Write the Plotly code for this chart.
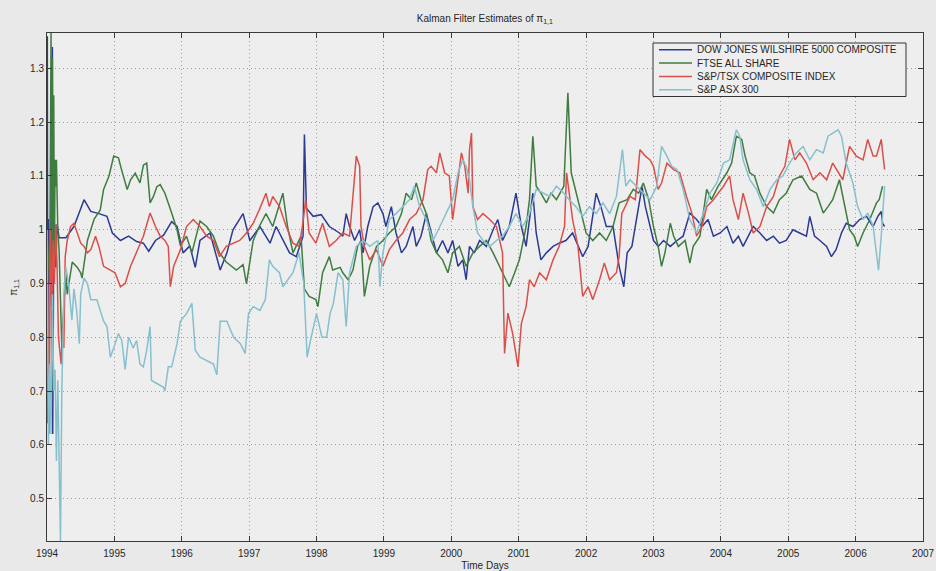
import plotly.graph_objects as go

# Kalman filter estimates of pi_{1,1} for four equity indices (time in decimal years)
dow_t = [1994.000, 1994.005, 1994.012, 1994.020, 1994.040, 1994.060, 1994.080, 1994.085, 1994.100,
         1994.130, 1994.150, 1994.180, 1994.280, 1994.400, 1994.550, 1994.650, 1994.770, 1994.890,
         1994.970, 1995.090, 1995.210, 1995.330, 1995.430, 1995.510, 1995.610, 1995.730, 1995.850,
         1995.930, 1996.020, 1996.120, 1996.200, 1996.270, 1996.420, 1996.570, 1996.670, 1996.760,
         1996.910, 1997.010, 1997.160, 1997.310, 1997.400, 1997.500, 1997.600, 1997.700, 1997.800,
         1997.820, 1997.850, 1997.950, 1998.070, 1998.190, 1998.340, 1998.390, 1998.440, 1998.490,
         1998.565, 1998.640, 1998.690, 1998.760, 1998.840, 1998.910, 1998.985, 1999.030, 1999.110,
         1999.180, 1999.260, 1999.330, 1999.430, 1999.480, 1999.550, 1999.630, 1999.680, 1999.780,
         1999.870, 1999.950, 2000.020, 2000.100, 2000.170, 2000.220, 2000.270, 2000.340, 2000.420,
         2000.520, 2000.620, 2000.690, 2000.760, 2000.860, 2000.960, 2001.040, 2001.110, 2001.160,
         2001.210, 2001.260, 2001.330, 2001.410, 2001.510, 2001.600, 2001.700, 2001.800, 2001.880,
         2001.950, 2002.030, 2002.100, 2002.150, 2002.220, 2002.300, 2002.400, 2002.490, 2002.560,
         2002.610, 2002.680, 2002.730, 2002.780, 2002.830, 2002.880, 2002.950, 2003.000, 2003.070,
         2003.150, 2003.250, 2003.350, 2003.440, 2003.540, 2003.640, 2003.720, 2003.810, 2003.890,
         2003.990, 2004.090, 2004.180, 2004.260, 2004.330, 2004.410, 2004.480, 2004.580, 2004.680,
         2004.780, 2004.870, 2004.970, 2005.070, 2005.170, 2005.270, 2005.320, 2005.390, 2005.470,
         2005.570, 2005.640, 2005.710, 2005.790, 2005.860, 2005.960, 2006.060, 2006.160, 2006.260,
         2006.330, 2006.380, 2006.400, 2006.430]
dow_v = [0.980, 1.360, 0.640, 1.020, 0.900, 1.050, 1.340, 0.620, 0.980,
         0.930, 1.010, 0.985, 0.985, 1.006, 1.056, 1.034, 1.030, 1.025,
         0.994, 0.980, 0.988, 0.978, 0.975, 0.960, 0.980, 0.990, 1.015,
         1.006, 0.957, 0.970, 0.930, 0.980, 0.994, 0.925, 0.957, 1.000,
         1.030, 0.980, 1.006, 0.975, 1.006, 0.980, 0.957, 0.950, 0.988,
         1.177, 1.040, 1.025, 1.028, 1.006, 0.994, 0.988, 1.030, 1.006,
         0.980, 1.000, 0.957, 1.006, 1.043, 1.050, 1.030, 1.006, 1.043,
         0.994, 0.957, 0.969, 1.006, 0.969, 0.988, 1.030, 1.006, 0.957,
         0.980, 0.957, 0.980, 0.932, 0.944, 0.907, 0.969, 0.957, 0.980,
         0.969, 1.000, 1.019, 0.980, 1.006, 1.068, 1.006, 0.969, 1.019,
         1.068, 0.994, 0.944, 0.957, 0.969, 0.975, 0.980, 0.994, 0.969,
         0.950, 0.969, 1.025, 1.068, 1.043, 1.006, 1.006, 0.932, 0.894,
         0.957, 0.969, 1.006, 1.037, 1.080, 1.043, 1.006, 0.980, 0.969,
         0.980, 0.969, 0.980, 0.988, 1.031, 1.019, 1.006, 1.019, 0.988,
         0.994, 1.006, 0.975, 0.988, 0.969, 0.988, 1.006, 0.994, 0.980,
         0.988, 0.975, 0.980, 1.000, 0.994, 0.988, 1.025, 0.988, 0.980,
         0.969, 0.950, 0.963, 0.994, 1.012, 1.006, 1.019, 1.025, 1.006,
         1.025, 1.034, 1.012, 1.006]

ftse_t = [1994.000, 1994.040, 1994.060, 1994.070, 1994.080, 1994.090, 1994.100, 1994.110, 1994.120,
          1994.130, 1994.140, 1994.160, 1994.180, 1994.200, 1994.220, 1994.250, 1994.280, 1994.300,
          1994.375, 1994.450, 1994.500, 1994.520, 1994.600, 1994.700, 1994.790, 1994.840, 1994.920,
          1994.990, 1995.060, 1995.110, 1995.190, 1995.240, 1995.310, 1995.380, 1995.430, 1995.480,
          1995.510, 1995.530, 1995.580, 1995.630, 1995.680, 1995.750, 1995.850, 1995.930, 1995.980,
          1996.070, 1996.150, 1996.200, 1996.270, 1996.370, 1996.470, 1996.560, 1996.660, 1996.810,
          1996.910, 1996.960, 1997.060, 1997.150, 1997.250, 1997.350, 1997.500, 1997.570, 1997.650,
          1997.770, 1997.820, 1997.890, 1997.990, 1998.020, 1998.090, 1998.190, 1998.240, 1998.350,
          1998.390, 1998.470, 1998.540, 1998.610, 1998.660, 1998.710, 1998.790, 1998.890, 1998.985,
          1999.080, 1999.180, 1999.260, 1999.330, 1999.410, 1999.480, 1999.550, 1999.630, 1999.700,
          1999.780, 1999.870, 1999.950, 2000.020, 2000.120, 2000.220, 2000.320, 2000.420, 2000.520,
          2000.620, 2000.720, 2000.790, 2000.860, 2000.940, 2001.010, 2001.110, 2001.160, 2001.210,
          2001.260, 2001.330, 2001.410, 2001.480, 2001.560, 2001.670, 2001.730, 2001.780, 2001.850,
          2001.930, 2002.000, 2002.100, 2002.200, 2002.300, 2002.400, 2002.490, 2002.610, 2002.700,
          2002.780, 2002.850, 2002.930, 2003.000, 2003.070, 2003.120, 2003.170, 2003.250, 2003.300,
          2003.370, 2003.470, 2003.540, 2003.590, 2003.690, 2003.790, 2003.860, 2003.960, 2004.090,
          2004.160, 2004.230, 2004.310, 2004.360, 2004.430, 2004.500, 2004.580, 2004.680, 2004.780,
          2004.870, 2004.970, 2005.070, 2005.200, 2005.320, 2005.420, 2005.520, 2005.590, 2005.660,
          2005.760, 2005.840, 2005.910, 2005.980, 2006.030, 2006.110, 2006.210, 2006.310, 2006.350,
          2006.400]
ftse_v = [1.000, 0.900, 1.366, 0.700, 1.320, 0.850, 1.250, 0.950, 1.130,
          1.080, 1.130, 1.000, 0.960, 0.850, 0.780, 0.860, 0.920, 0.880,
          0.940, 0.930, 0.920, 0.910, 0.980, 1.020, 1.037, 1.075, 1.100,
          1.137, 1.134, 1.110, 1.075, 1.093, 1.105, 1.087, 1.120, 1.124,
          1.087, 1.050, 1.062, 1.080, 1.084, 1.068, 1.031, 1.000, 0.970,
          0.988, 0.957, 0.980, 1.016, 1.006, 0.988, 0.957, 0.940, 0.925,
          0.935, 0.900, 0.980, 1.006, 1.030, 1.006, 1.068, 1.006, 0.957,
          0.988, 0.890, 0.876, 0.870, 0.857, 0.920, 0.950, 0.925, 0.930,
          0.920, 0.907, 0.925, 0.969, 0.980, 0.876, 0.932, 0.969, 0.980,
          0.994, 1.006, 1.030, 1.068, 1.056, 1.087, 1.056, 1.030, 0.980,
          0.957, 0.944, 0.920, 0.957, 0.969, 0.932, 0.957, 0.969, 0.980,
          0.957, 0.932, 0.913, 0.894, 0.920, 0.944, 1.006, 1.056, 1.174,
          1.081, 1.068, 1.050, 1.068, 1.056, 1.081, 1.255, 1.106, 1.068,
          1.030, 0.994, 0.980, 0.994, 0.980, 1.006, 1.050, 1.056, 1.075,
          1.068, 1.087, 1.056, 1.006, 0.969, 0.932, 0.957, 1.012, 0.988,
          0.969, 0.980, 0.938, 0.969, 0.988, 1.075, 1.056, 1.081, 1.106,
          1.124, 1.174, 1.168, 1.137, 1.106, 1.100, 1.068, 1.043, 1.031,
          1.056, 1.068, 1.093, 1.100, 1.075, 1.068, 1.031, 1.043, 1.056,
          1.093, 1.043, 1.000, 0.988, 0.969, 0.994, 1.019, 1.050, 1.056,
          1.081]

tsx_t = [1994.000, 1994.030, 1994.050, 1994.070, 1994.090, 1994.110, 1994.130, 1994.150, 1994.170,
         1994.190, 1994.210, 1994.230, 1994.250, 1994.270, 1994.300, 1994.350, 1994.400, 1994.450,
         1994.500, 1994.550, 1994.600, 1994.650, 1994.720, 1994.770, 1994.840, 1994.940, 1995.010,
         1995.090, 1995.160, 1995.240, 1995.330, 1995.430, 1995.530, 1995.610, 1995.680, 1995.750,
         1995.800, 1995.830, 1995.880, 1995.980, 1996.070, 1996.170, 1996.270, 1996.370, 1996.470,
         1996.560, 1996.660, 1996.760, 1996.860, 1996.960, 1997.060, 1997.150, 1997.250, 1997.300,
         1997.350, 1997.450, 1997.550, 1997.650, 1997.740, 1997.790, 1997.840, 1997.890, 1997.990,
         1998.090, 1998.190, 1998.290, 1998.390, 1998.490, 1998.565, 1998.590, 1998.640, 1998.660,
         1998.710, 1998.790, 1998.890, 1998.985, 1999.080, 1999.180, 1999.280, 1999.380, 1999.480,
         1999.580, 1999.650, 1999.700, 1999.780, 1999.830, 1999.900, 1999.970, 2000.020, 2000.070,
         2000.150, 2000.200, 2000.250, 2000.270, 2000.300, 2000.320, 2000.390, 2000.470, 2000.570,
         2000.670, 2000.760, 2000.790, 2000.840, 2000.910, 2000.990, 2001.040, 2001.110, 2001.160,
         2001.230, 2001.310, 2001.410, 2001.510, 2001.600, 2001.680, 2001.710, 2001.750, 2001.800,
         2001.880, 2001.950, 2002.030, 2002.100, 2002.200, 2002.270, 2002.350, 2002.450, 2002.490,
         2002.530, 2002.580, 2002.650, 2002.730, 2002.800, 2002.880, 2002.950, 2003.000, 2003.070,
         2003.120, 2003.200, 2003.300, 2003.390, 2003.490, 2003.570, 2003.640, 2003.720, 2003.790,
         2003.890, 2003.960, 2004.040, 2004.130, 2004.180, 2004.260, 2004.330, 2004.410, 2004.480,
         2004.580, 2004.680, 2004.780, 2004.870, 2004.950, 2005.020, 2005.100, 2005.170, 2005.270,
         2005.370, 2005.470, 2005.570, 2005.660, 2005.740, 2005.810, 2005.910, 2006.010, 2006.110,
         2006.180, 2006.260, 2006.310, 2006.380, 2006.430]
tsx_v = [1.000, 0.620, 1.000, 0.850, 0.980, 0.900, 1.010, 0.930, 0.800,
         0.770, 0.750, 0.820, 0.780, 0.950, 0.980, 1.006, 1.012, 0.994,
         0.975, 0.969, 0.957, 0.963, 0.988, 0.969, 0.932, 0.925, 0.920,
         0.894, 0.900, 0.932, 0.957, 0.988, 1.031, 1.006, 0.988, 0.980,
         0.969, 0.894, 0.932, 0.963, 1.006, 1.019, 1.006, 0.988, 0.980,
         0.950, 0.969, 0.975, 0.980, 0.994, 1.012, 1.037, 1.068, 1.043,
         1.062, 1.043, 1.006, 0.975, 0.969, 1.006, 1.056, 0.994, 0.975,
         1.012, 0.969, 0.980, 0.994, 0.988, 1.106, 1.137, 1.118, 1.006,
         0.969, 0.944, 0.963, 0.932, 0.963, 0.980, 0.994, 1.019, 1.030,
         1.056, 1.112, 1.118, 1.106, 1.143, 1.106, 1.100, 1.019, 1.068,
         1.143, 1.118, 1.068, 1.149, 1.180, 1.043, 1.019, 1.030, 1.019,
         1.006, 0.957, 0.770, 0.845, 0.807, 0.745, 0.826, 0.857, 0.907,
         0.894, 0.920, 0.907, 0.944, 0.969, 1.006, 1.106, 1.068, 1.019,
         0.969, 0.876, 0.894, 0.870, 0.907, 0.938, 0.907, 0.920, 0.950,
         1.030, 1.043, 1.062, 1.056, 1.149, 1.137, 1.130, 1.118, 1.075,
         1.087, 1.124, 1.112, 1.106, 1.062, 1.031, 0.988, 1.006, 1.043,
         1.056, 1.068, 1.081, 1.100, 1.056, 1.019, 1.068, 1.031, 0.994,
         1.006, 1.043, 1.062, 1.100, 1.118, 1.168, 1.130, 1.143, 1.124,
         1.093, 1.106, 1.093, 1.124, 1.106, 1.093, 1.155, 1.137, 1.130,
         1.168, 1.137, 1.137, 1.168, 1.112]

asx_t = [1994.000, 1994.020, 1994.040, 1994.060, 1994.080, 1994.100, 1994.120, 1994.140, 1994.160,
         1994.180, 1994.200, 1994.220, 1994.250, 1994.280, 1994.320, 1994.370, 1994.400, 1994.440,
         1994.480, 1994.500, 1994.550, 1994.600, 1994.650, 1994.740, 1994.790, 1994.840, 1994.890,
         1994.940, 1994.990, 1995.060, 1995.110, 1995.160, 1995.210, 1995.280, 1995.330, 1995.380,
         1995.430, 1995.480, 1995.530, 1995.550, 1995.630, 1995.730, 1995.750, 1995.800, 1995.850,
         1995.930, 1995.980, 1996.070, 1996.150, 1996.200, 1996.270, 1996.370, 1996.470, 1996.520,
         1996.570, 1996.670, 1996.770, 1996.870, 1996.940, 1996.990, 1997.060, 1997.160, 1997.240,
         1997.300, 1997.350, 1997.450, 1997.500, 1997.650, 1997.740, 1997.810, 1997.860, 1997.910,
         1997.960, 1998.000, 1998.080, 1998.150, 1998.200, 1998.250, 1998.320, 1998.390, 1998.440,
         1998.490, 1998.590, 1998.690, 1998.790, 1998.910, 1998.940, 1998.985, 1999.080, 1999.180,
         1999.280, 1999.380, 1999.450, 1999.530, 1999.630, 1999.730, 1999.830, 1999.920, 2000.020,
         2000.100, 2000.170, 2000.220, 2000.270, 2000.320, 2000.390, 2000.470, 2000.570, 2000.670,
         2000.760, 2000.860, 2000.960, 2001.060, 2001.160, 2001.260, 2001.360, 2001.460, 2001.560,
         2001.670, 2001.750, 2001.850, 2001.950, 2002.050, 2002.150, 2002.250, 2002.350, 2002.450,
         2002.540, 2002.590, 2002.650, 2002.750, 2002.850, 2002.950, 2003.050, 2003.120, 2003.200,
         2003.270, 2003.350, 2003.440, 2003.540, 2003.640, 2003.740, 2003.840, 2003.940, 2004.040,
         2004.130, 2004.230, 2004.280, 2004.330, 2004.430, 2004.530, 2004.630, 2004.730, 2004.830,
         2004.920, 2005.020, 2005.120, 2005.220, 2005.320, 2005.420, 2005.520, 2005.590, 2005.660,
         2005.740, 2005.790, 2005.860, 2005.960, 2006.030, 2006.110, 2006.180, 2006.260, 2006.310,
         2006.340, 2006.380, 2006.430]
asx_v = [1.000, 0.600, 0.750, 0.620, 0.880, 0.700, 0.740, 0.570, 0.720,
         0.600, 0.421, 0.700, 0.880, 0.930, 0.900, 0.832, 0.890, 0.850,
         0.788, 0.880, 0.910, 0.900, 0.870, 0.870, 0.850, 0.830, 0.820,
         0.763, 0.780, 0.807, 0.794, 0.740, 0.800, 0.780, 0.794, 0.750,
         0.745, 0.776, 0.820, 0.720, 0.714, 0.707, 0.700, 0.745, 0.745,
         0.788, 0.830, 0.844, 0.863, 0.776, 0.763, 0.757, 0.750, 0.730,
         0.830, 0.830, 0.800, 0.788, 0.770, 0.844, 0.857, 0.850, 0.870,
         0.944, 0.932, 0.920, 0.894, 0.920, 0.957, 0.900, 0.763, 0.794,
         0.825, 0.844, 0.800, 0.800, 0.844, 0.863, 0.920, 0.907, 0.820,
         0.920, 0.969, 0.980, 0.969, 0.980, 0.894, 0.957, 1.019, 1.030,
         1.043, 1.056, 1.081, 1.043, 1.019, 0.980, 1.006, 1.030, 1.056,
         1.106, 1.130, 1.118, 1.093, 1.043, 0.994, 0.980, 0.969, 0.980,
         0.988, 1.006, 1.030, 1.006, 1.030, 1.075, 1.068, 1.062, 1.081,
         1.068, 1.056, 1.043, 1.025, 1.043, 1.030, 1.050, 1.030, 1.062,
         1.149, 1.081, 1.093, 1.081, 1.068, 1.056, 1.081, 1.155, 1.137,
         1.118, 1.112, 1.075, 1.019, 0.994, 1.031, 1.068, 1.087, 1.124,
         1.130, 1.186, 1.174, 1.130, 1.093, 1.075, 1.043, 1.075, 1.093,
         1.100, 1.124, 1.143, 1.155, 1.130, 1.149, 1.143, 1.174, 1.180,
         1.186, 1.174, 1.124, 1.087, 1.043, 1.019, 1.031, 1.006, 0.957,
         0.925, 0.988, 1.081]

series_names = ["DOW JONES WILSHIRE 5000 COMPOSITE", "FTSE ALL SHARE",
                "S&P/TSX COMPOSITE INDEX", "S&P ASX 300"]
series_colors = ["#2c3a92", "#3f7c3f", "#d9504a", "#86c0cf"]

year_ticks = list(range(1994, 2008))
y_ticks = [0.5, 0.6, 0.7, 0.8, 0.9, 1.0, 1.1, 1.2, 1.3]
y_tick_text = ["0.5", "0.6", "0.7", "0.8", "0.9", "1", "1.1", "1.2", "1.3"]

FONT = "Liberation Sans, Arial, sans-serif"
TEXT_COLOR = "#262626"

fig = go.Figure()
for t, v, name, color in zip([dow_t, ftse_t, tsx_t, asx_t],
                             [dow_v, ftse_v, tsx_v, asx_v],
                             series_names, series_colors):
    fig.add_trace(go.Scatter(x=t, y=v, mode="lines", name=name, showlegend=False,
                             line=dict(color=color, width=1.5)))

axis_common = dict(
    showline=True, linecolor="#3a3a3a", linewidth=1, mirror="ticks",
    ticks="inside", ticklen=5, tickcolor="#3a3a3a",
    showgrid=True, gridcolor="#9c9c9c", griddash="1px,3px", gridwidth=1,
    zeroline=False, automargin=False,
    tickfont=dict(family=FONT, size=10, color=TEXT_COLOR),
)

fig.update_layout(
    width=936, height=571,
    margin=dict(l=47, r=13, t=33, b=30),
    paper_bgcolor="#e9e9e9", plot_bgcolor="#eeeeee",
    title=dict(text="Kalman Filter Estimates of π<sub>1,1</sub>", x=0.518, xanchor="center",
               y=0.968, yanchor="middle", font=dict(family=FONT, size=10, color=TEXT_COLOR)),
    xaxis=dict(range=[1994, 2007], tickvals=year_ticks, ticktext=[str(y) for y in year_ticks],
               ticklabelstandoff=3,
               title=dict(text="Time Days", standoff=4,
                          font=dict(family=FONT, size=10, color=TEXT_COLOR)),
               **axis_common),
    yaxis=dict(range=[0.421, 1.366], tickvals=y_ticks, ticktext=y_tick_text, **axis_common),
    showlegend=False,
)

# Compact boxed legend in the upper-right corner of the axes
leg_x0, leg_x1, leg_y0, leg_y1 = 0.6918, 0.9806, 0.875, 0.9803
fig.add_shape(type="rect", xref="paper", yref="paper", x0=leg_x0, x1=leg_x1, y0=leg_y0, y1=leg_y1,
              line=dict(color="#333333", width=1), fillcolor="#eeeeee", layer="above")
row_h = (leg_y1 - leg_y0) / 4
for i, (name, color) in enumerate(zip(series_names, series_colors)):
    yc = leg_y1 - (i + 0.5) * row_h
    fig.add_shape(type="line", xref="paper", yref="paper", x0=0.6986, x1=0.7363, y0=yc, y1=yc,
                  line=dict(color=color, width=1.5), layer="above")
    fig.add_annotation(text=name, xref="paper", yref="paper", x=0.7397, y=yc,
                       xanchor="left", yanchor="middle", showarrow=False,
                       font=dict(family=FONT, size=10, color=TEXT_COLOR))

fig.add_annotation(text="π<sub>1,1</sub>", xref="paper", yref="paper", x=-0.038, y=0.5,
                   textangle=-90, showarrow=False, xanchor="center", yanchor="middle",
                   font=dict(family=FONT, size=10, color=TEXT_COLOR))

fig.write_html("out.html")
